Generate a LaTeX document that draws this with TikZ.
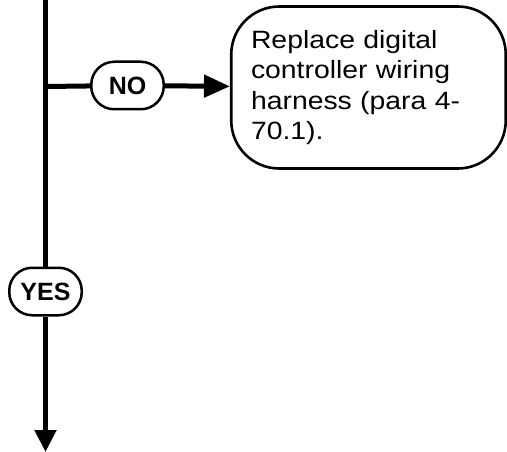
\documentclass[tikz,border=0pt]{standalone}
\usepackage{fontspec}
\setmainfont{Liberation Sans}
\newfontfamily\wideboxfont[FakeStretch=1.135]{Liberation Sans}
\usetikzlibrary{arrows.meta}

\begin{document}
\begin{tikzpicture}[x=1pt, y=-1pt,
  flowline/.style={line width=5pt},
  flowarrow/.style={flowline, -{Triangle[length=#1]}},
  answer/.style={draw, line width=2.5pt, rounded corners=23pt,
    minimum width=72.5pt, minimum height=47.5pt, inner sep=0pt,
    font=\fontsize{25}{30}\selectfont\bfseries},
  action/.style={draw, line width=2.6pt, rounded corners=48pt,
    minimum width=274.5pt, minimum height=162pt, inner xsep=18pt,
    text width=235pt, align=left,
    font=\wideboxfont\fontsize{25}{30.5}\selectfont}]
  \useasboundingbox (0,0) rectangle (507,452);

  % Main trunk points
  \coordinate (top) at (45.5, 0);     % trunk enters from above
  \coordinate (jn)  at (45.5, 86.5);  % branch to the NO side
  \coordinate (bot) at (45.5, 452);   % trunk leaves below

  % Answer ovals and the action box
  \node[answer] (no)  at (127.5, 85.5) {NO};
  \node[answer] (yes) at (45.5, 291.5) {YES};
  \node[action] (fix) at (368.5, 87.5)
    {Replace digital\\controller wiring\\harness (para 4-\\70.1).};

  % Trunk
  \draw[flowline] (top) -- (yes);
  \draw[flowarrow={22pt, width=21pt}] (yes) -- (bot);

  % NO branch
  \draw[flowline] (jn) -- (no);
  \draw[flowarrow={26pt, width=22pt}] (no) -- (fix);
\end{tikzpicture}
\end{document}
